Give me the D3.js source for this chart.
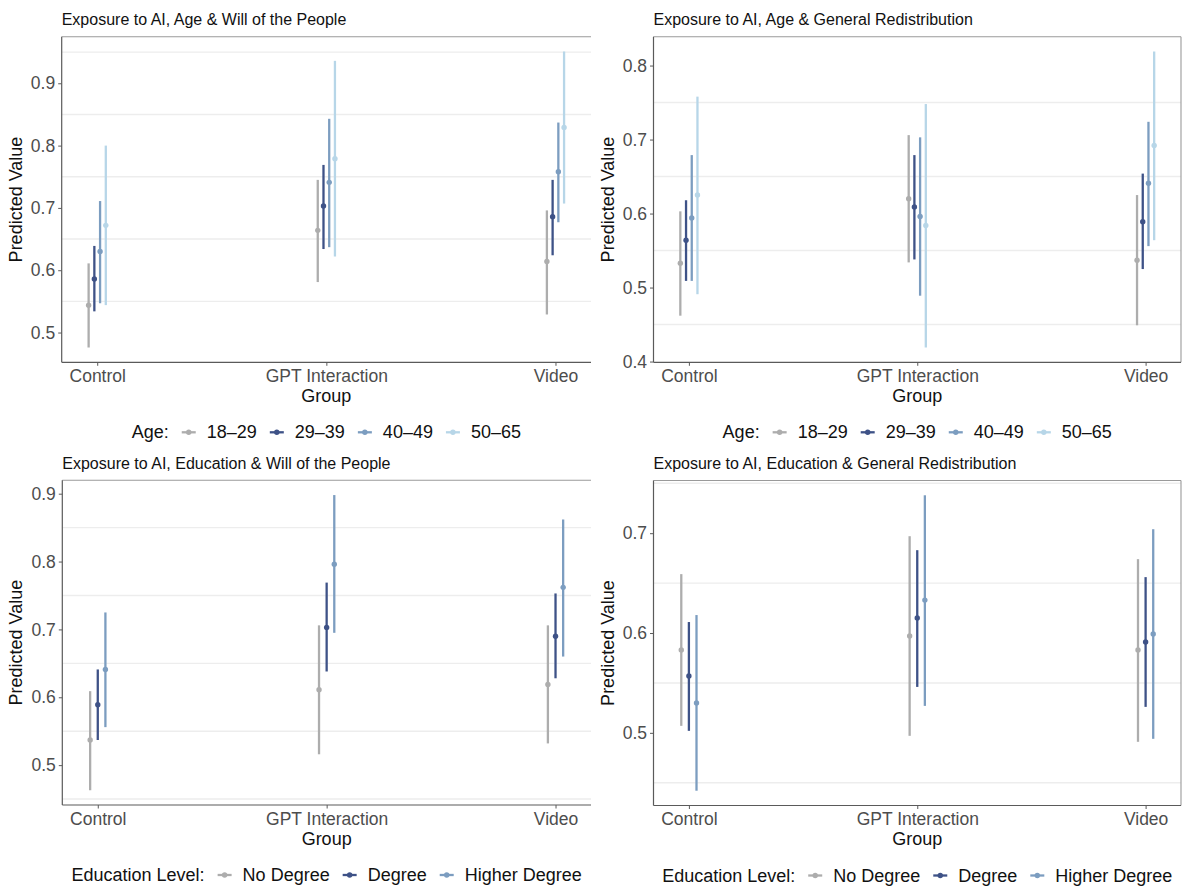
<!DOCTYPE html>
<html>
<head>
<meta charset="utf-8">
<script src="https://cdn.jsdelivr.net/npm/d3@7"></script>
<style>
  html, body { margin: 0; padding: 0; background: #ffffff; }
  svg { display: block; font-family: "Liberation Sans", Arial, Helvetica, sans-serif; }
</style>
</head>
<body>
<svg id="chart" width="1183" height="889"></svg>
<script>
// ---------------- DATA ----------------
const groups = ["Control", "GPT Interaction", "Video"];
const ageLevels = ["18–29", "29–39", "40–49", "50–65"];
const eduLevels = ["No Degree", "Degree", "Higher Degree"];

const ageColors = ["#adadad", "#3e5287", "#7c9dc0", "#b7d6e8"];
const eduColors = ["#adadad", "#3e5287", "#7c9dc0"];

const panelTitles = [
  "Exposure to AI, Age & Will of the People",
  "Exposure to AI, Age & General Redistribution",
  "Exposure to AI, Education & Will of the People",
  "Exposure to AI, Education & General Redistribution"
];

const yTicksWillAge = [0.5, 0.6, 0.7, 0.8, 0.9];
const yTicksRedistAge = [0.4, 0.5, 0.6, 0.7, 0.8];
const yTicksWillEdu = [0.5, 0.6, 0.7, 0.8, 0.9];
const yTicksRedistEdu = [0.5, 0.6, 0.7];

// values indexed [level][group]  (groups: Control, GPT Interaction, Video)
const willAgeEst  = [[0.544, 0.664, 0.614], [0.586, 0.703, 0.686], [0.630, 0.741, 0.758], [0.672, 0.779, 0.829]];
const willAgeLow  = [[0.476, 0.581, 0.529], [0.534, 0.634, 0.624], [0.547, 0.637, 0.677], [0.544, 0.622, 0.707]];
const willAgeHigh = [[0.611, 0.745, 0.696], [0.639, 0.769, 0.745], [0.711, 0.843, 0.837], [0.800, 0.936, 0.951]];

const redistAgeEst  = [[0.533, 0.620, 0.537], [0.564, 0.609, 0.589], [0.594, 0.596, 0.641], [0.625, 0.584, 0.692]];
const redistAgeLow  = [[0.462, 0.534, 0.449], [0.509, 0.538, 0.525], [0.509, 0.489, 0.556], [0.491, 0.419, 0.564]];
const redistAgeHigh = [[0.603, 0.706, 0.625], [0.618, 0.679, 0.654], [0.679, 0.703, 0.724], [0.758, 0.748, 0.819]];

const willEduEst  = [[0.537, 0.611, 0.619], [0.589, 0.703, 0.690], [0.641, 0.796, 0.762]];
const willEduLow  = [[0.463, 0.516, 0.532], [0.537, 0.638, 0.628], [0.556, 0.695, 0.660]];
const willEduHigh = [[0.609, 0.706, 0.706], [0.641, 0.769, 0.753], [0.725, 0.898, 0.862]];

const redistEduEst  = [[0.583, 0.597, 0.583], [0.557, 0.615, 0.591], [0.530, 0.633, 0.599]];
const redistEduLow  = [[0.507, 0.497, 0.491], [0.502, 0.546, 0.526], [0.442, 0.527, 0.494]];
const redistEduHigh = [[0.659, 0.697, 0.674], [0.611, 0.683, 0.656], [0.618, 0.738, 0.704]];

// ---------------- LAYOUT ----------------
const panels = [
  { title: panelTitles[0], legendTitle: "Age:", levels: ageLevels, colors: ageColors,
    est: willAgeEst, low: willAgeLow, high: willAgeHigh, ticks: yTicksWillAge,
    left: 61.7, right: 591, top: 36.7, bottom: 362.3, rightBorder: false },
  { title: panelTitles[1], legendTitle: "Age:", levels: ageLevels, colors: ageColors,
    est: redistAgeEst, low: redistAgeLow, high: redistAgeHigh, ticks: yTicksRedistAge,
    left: 653.5, right: 1181, top: 36.7, bottom: 362.3, rightBorder: true },
  { title: panelTitles[2], legendTitle: "Education Level:", levels: eduLevels, colors: eduColors,
    est: willEduEst, low: willEduLow, high: willEduHigh, ticks: yTicksWillEdu,
    left: 62.3, right: 591, top: 480.3, bottom: 805, rightBorder: false },
  { title: panelTitles[3], legendTitle: "Education Level:", levels: eduLevels, colors: eduColors,
    est: redistEduEst, low: redistEduLow, high: redistEduHigh, ticks: yTicksRedistEdu,
    left: 653.5, right: 1181, top: 480.5, bottom: 805.5, rightBorder: true }
];

const svg = d3.select("#chart");
const tickColor = "#4d4d4d";
const axisColor = "#5a5a5a";
const gridColor = "#ededed";
const barWidth = 2.3;
const pointR = 2.7;
const xExpand = 0.155;
const dodgeWidth = 0.1;

panels.forEach(p => {
  const g = svg.append("g");

  // y domain from data, ggplot-style 5% expansion
  const all = p.low.flat().concat(p.high.flat());
  const lo = d3.min(all), hi = d3.max(all);
  const pad = (hi - lo) * 0.05;
  const y = d3.scaleLinear().domain([lo - pad, hi + pad]).range([p.bottom, p.top]);
  const x = d3.scaleLinear().domain([1 - xExpand, 3 + xExpand]).range([p.left, p.right]);

  // minor gridlines (at midpoints between ticks)
  const [d0, d1] = y.domain();
  const minor = d3.range(Math.ceil((d0 - 0.05) / 0.1) * 0.1 + 0.05, d1, 0.1).filter(v => v > d0 && v < d1);
  g.selectAll(".grid").data(minor).join("line")
    .attr("x1", p.left).attr("x2", p.right)
    .attr("y1", d => y(d)).attr("y2", d => y(d))
    .attr("stroke", gridColor).attr("stroke-width", 1.4);

  // top border & optional right border
  g.append("line").attr("x1", p.left).attr("x2", p.right).attr("y1", p.top).attr("y2", p.top)
    .attr("stroke", "#9a9a9a").attr("stroke-width", 1.1);
  if (p.rightBorder) {
    g.append("line").attr("x1", p.right).attr("x2", p.right).attr("y1", p.top).attr("y2", p.bottom)
      .attr("stroke", "#9a9a9a").attr("stroke-width", 1.1);
  }

  // y axis
  const yAxis = d3.axisLeft(y).tickValues(p.ticks).tickFormat(d3.format(".1f")).tickSize(3.5).tickPadding(3);
  const ya = g.append("g").attr("transform", `translate(${p.left},0)`).call(yAxis);
  ya.select(".domain").attr("stroke", axisColor).attr("stroke-width", 1.2)
    .attr("d", `M0,${p.top}V${p.bottom}`);
  ya.selectAll(".tick line").attr("stroke", axisColor).attr("stroke-width", 1);
  ya.selectAll(".tick text").attr("fill", tickColor).style("font-size", "17.5px")
    .style("font-family", "'Liberation Sans', Arial, sans-serif");

  // x axis
  const xAxis = d3.axisBottom(x).tickValues([1, 2, 3]).tickFormat((d, i) => groups[i]).tickSize(3.5).tickPadding(4);
  const xa = g.append("g").attr("transform", `translate(0,${p.bottom})`).call(xAxis);
  xa.select(".domain").attr("stroke", axisColor).attr("stroke-width", 1.2)
    .attr("d", `M${p.left},0H${p.right}`);
  xa.selectAll(".tick line").attr("stroke", axisColor).attr("stroke-width", 1);
  xa.selectAll(".tick text").attr("fill", tickColor).style("font-size", "17.5px")
    .style("font-family", "'Liberation Sans', Arial, sans-serif");

  // title
  g.append("text").attr("x", p.left).attr("y", p.top - 11.5)
    .attr("fill", "#111").style("font-size", "16px").text(p.title);

  // axis titles
  const cxPanel = x(2);
  g.append("text").attr("x", cxPanel).attr("y", p.bottom + 39.5)
    .attr("text-anchor", "middle").attr("fill", "#111").style("font-size", "18px").text("Group");
  g.append("text")
    .attr("transform", `translate(${p.left - 40},${(p.top + p.bottom) / 2}) rotate(-90)`)
    .attr("text-anchor", "middle").attr("fill", "#111").style("font-size", "18px").text("Predicted Value");

  // data: pointranges with dodge
  const n = p.levels.length;
  const rows = [];
  p.levels.forEach((lev, li) => {
    groups.forEach((gr, gi) => {
      rows.push({ li, gi, est: p.est[li][gi], low: p.low[li][gi], high: p.high[li][gi] });
    });
  });
  const off = li => (li - (n - 1) / 2) * dodgeWidth / n;
  g.selectAll(".bar").data(rows).join("line")
    .attr("x1", d => x(d.gi + 1 + off(d.li))).attr("x2", d => x(d.gi + 1 + off(d.li)))
    .attr("y1", d => y(d.low)).attr("y2", d => y(d.high))
    .attr("stroke", d => p.colors[d.li]).attr("stroke-width", barWidth);
  g.selectAll(".pt").data(rows).join("circle")
    .attr("cx", d => x(d.gi + 1 + off(d.li))).attr("cy", d => y(d.est))
    .attr("r", pointR).attr("fill", d => p.colors[d.li]);

  // legend
  const leg = g.append("g");
  const legY = p.bottom + 70;
  let cur = 0;
  const lt = leg.append("text").attr("x", cur).attr("y", legY + 6)
    .attr("fill", "#111").style("font-size", "18px").text(p.legendTitle);
  cur += lt.node().getComputedTextLength() + 13;
  p.levels.forEach((lev, li) => {
    leg.append("line").attr("x1", cur).attr("x2", cur + 14).attr("y1", legY).attr("y2", legY)
      .attr("stroke", p.colors[li]).attr("stroke-width", barWidth);
    leg.append("circle").attr("cx", cur + 7).attr("cy", legY).attr("r", pointR).attr("fill", p.colors[li]);
    cur += 14 + 11;
    const t = leg.append("text").attr("x", cur).attr("y", legY + 6)
      .attr("fill", "#111").style("font-size", "18px").text(lev);
    cur += t.node().getComputedTextLength() + 13;
  });
  const totalW = cur - 13;
  leg.attr("transform", `translate(${cxPanel - totalW / 2},0)`);
});
</script>
</body>
</html>
